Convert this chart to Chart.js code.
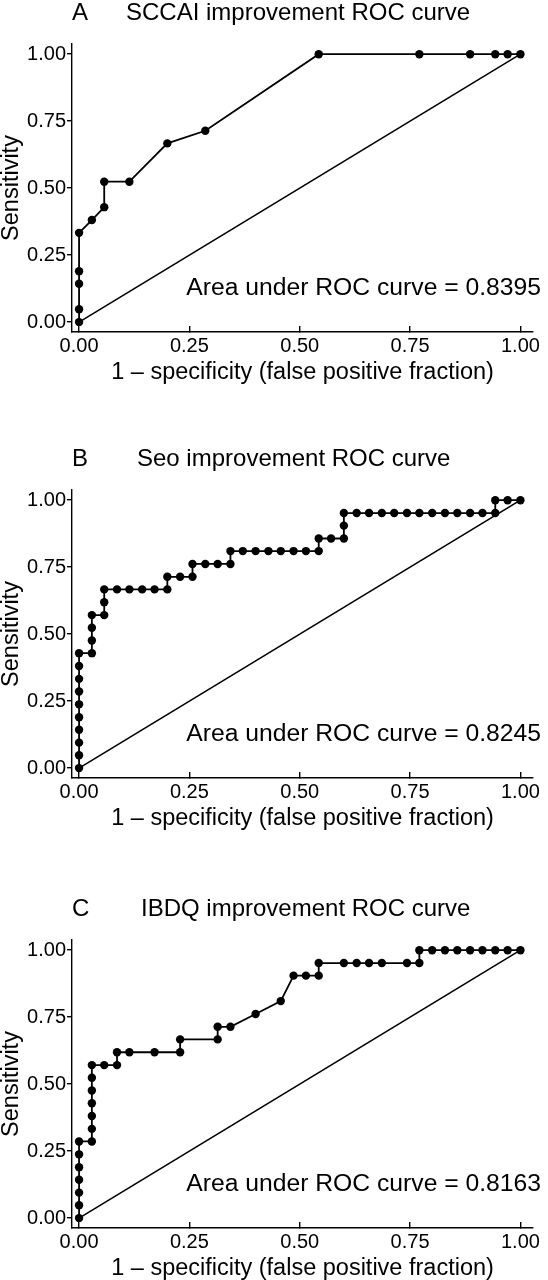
<!DOCTYPE html>
<html>
<head>
<meta charset="utf-8">
<script src="https://cdn.jsdelivr.net/npm/chart.js@4/dist/chart.umd.min.js"></script>
<style>
  html, body { margin: 0; padding: 0; background: #fff; }
  body { width: 548px; height: 1280px; position: relative; overflow: hidden; }
  .panel { position: absolute; left: 0; width: 548px; height: 384px; }
</style>
</head>
<body>
<div class="panel" style="top:0"><canvas id="rocA" width="548" height="384"></canvas></div>
<div class="panel" style="top:446px"><canvas id="rocB" width="548" height="384"></canvas></div>
<div class="panel" style="top:896px"><canvas id="rocC" width="548" height="384"></canvas></div>
<script>
// A - SCCAI
const fprA = [0, 0, 0, 0, 0, .029, .057, .057, .114, .200, .286, .543, .771, .886, .943, .971, 1];
const sensA = [0, .048, .143, .190, .333, .381, .429, .524, .524, .667, .714, 1, 1, 1, 1, 1, 1];

// B - Seo
const fprB = [0, 0, 0, 0, 0, 0, 0, 0, 0, 0,
  .029, .029, .029, .029, .057, .057, .057,
  .086, .114, .143, .171, .200, .200, .229, .257,
  .257, .286, .314, .343, .343, .371, .400, .429, .457, .486, .514, .543,
  .543, .571, .600, .600, .600,
  .629, .657, .686, .714, .743, .771, .800, .829, .857, .886, .914, .943,
  .943, .971, 1];
const sensB = [0, .048, .095, .143, .190, .238, .286, .333, .381, .429,
  .429, .476, .524, .571, .571, .619, .667,
  .667, .667, .667, .667, .667, .714, .714, .714,
  .762, .762, .762, .762, .810, .810, .810, .810, .810, .810, .810, .810,
  .857, .857, .857, .905, .952,
  .952, .952, .952, .952, .952, .952, .952, .952, .952, .952, .952, .952,
  1, 1, 1];

// C - IBDQ
const fprC = [0, 0, 0, 0, 0, 0, 0, .029, .029, .029, .029, .029, .029, .029,
  .057, .086, .086, .114, .171, .229, .229, .314, .314, .343, .400, .457,
  .486, .514, .543, .543, .600, .629, .657, .686, .743, .771, .771,
  .800, .829, .857, .886, .914, .943, .971, 1];
const sensC = [0, .048, .095, .143, .190, .238, .286, .286, .333, .381, .429, .476, .524, .571,
  .571, .571, .619, .619, .619, .619, .667, .667, .714, .714, .762, .810,
  .905, .905, .905, .952, .952, .952, .952, .952, .952, .952, 1,
  1, 1, 1, 1, 1, 1, 1, 1];

const tickValues = [0, 0.25, 0.5, 0.75, 1];
const panelLetters = ['A', 'B', 'C'];
const panelTitles = ['SCCAI improvement ROC curve', 'Seo improvement ROC curve', 'IBDQ improvement ROC curve'];
const aucValues = ['0.8395', '0.8245', '0.8163'];

const FONT = '"Liberation Sans", Arial, sans-serif';
Chart.defaults.font.family = FONT;
Chart.defaults.color = '#000';

// letter, title and AUC text drawn on each panel
const panelText = {
  id: 'panelText',
  afterDraw(chart, args, opts) {
    const ctx = chart.ctx;
    ctx.save();
    ctx.fillStyle = '#000';
    ctx.font = '24px ' + FONT;
    ctx.textAlign = 'left';
    ctx.textBaseline = 'alphabetic';
    ctx.fillText(opts.letter, 72, 20);
    ctx.fillText(opts.title, opts.titleX, 20);
    ctx.font = '24.7px ' + FONT;
    ctx.textAlign = 'right';
    ctx.fillText('Area under ROC curve = ' + opts.auc, 541, chart.scales.y.getPixelForValue(0) - 27);
    ctx.restore();
  }
};

function makeRoc(id, fpr, sens, i, titleX) {
  const pts = fpr.map((x, k) => ({ x: x, y: sens[k] }));
  new Chart(document.getElementById(id), {
    type: 'scatter',
    data: {
      datasets: [
        {
          data: [{ x: 0, y: 0 }, { x: 1, y: 1 }],
          showLine: true,
          borderColor: '#000',
          borderWidth: 1.6,
          pointRadius: 0,
        },
        {
          data: pts,
          showLine: true,
          borderColor: '#000',
          borderWidth: 1.8,
          pointRadius: 4.2,
          pointBackgroundColor: '#000',
          pointBorderWidth: 0,
        },
      ],
    },
    options: {
      responsive: false,
      animation: false,
      devicePixelRatio: 1,
      layout: { padding: { top: 44, left: 0, right: 0, bottom: 0 } },
      plugins: {
        legend: { display: false },
        tooltip: { enabled: false },
        panelText: { letter: panelLetters[i], title: panelTitles[i], auc: aucValues[i], titleX: titleX },
      },
      elements: { line: { tension: 0 } },
      scales: {
        x: {
          type: 'linear',
          min: -0.016,
          max: 1.0286,
          afterBuildTicks: s => { s.ticks = tickValues.map(v => ({ value: v })); },
          afterFit: s => { s.height = 52; },
          ticks: { font: { size: 20 }, padding: 8, maxRotation: 0, callback: v => v.toFixed(2) },
          grid: { drawOnChartArea: false, tickLength: -6, color: '#000', lineWidth: 1.4 },
          border: { display: true, color: '#000', width: 1.4 },
          title: { display: true, text: '1 \u2013 specificity (false positive fraction)', font: { size: 23.5, lineHeight: 1 }, padding: 0 },
        },
        y: {
          type: 'linear',
          min: -0.037,
          max: 1.038,
          afterBuildTicks: s => { s.ticks = tickValues.map(v => ({ value: v })); },
          afterFit: s => { s.width = 72; },
          ticks: { font: { size: 20 }, padding: 1, callback: v => v.toFixed(2) },
          grid: { drawOnChartArea: false, tickLength: 5, color: '#000', lineWidth: 1.4 },
          border: { display: true, color: '#000', width: 1.4 },
          title: { display: true, text: 'Sensitivity', font: { size: 23.5, lineHeight: 1 }, padding: 0 },
        },
      },
    },
    plugins: [panelText],
  });
}

makeRoc('rocA', fprA, sensA, 0, 126);
makeRoc('rocB', fprB, sensB, 1, 137);
makeRoc('rocC', fprC, sensC, 2, 141);
</script>
</body>
</html>
